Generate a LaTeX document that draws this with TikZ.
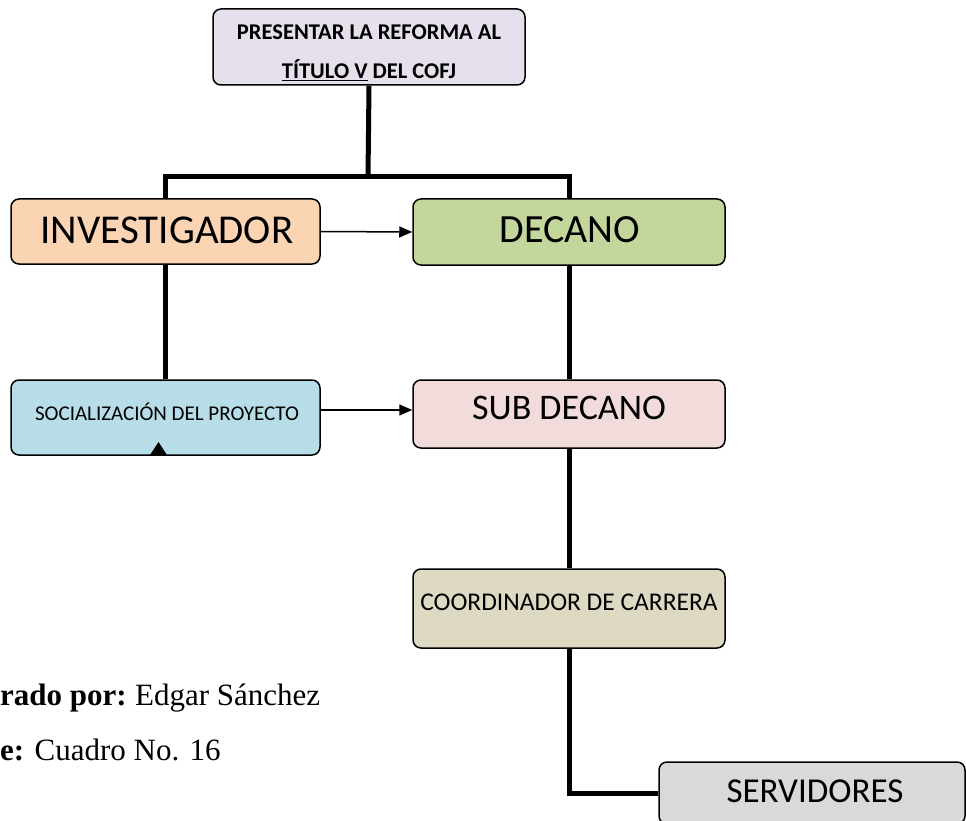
\documentclass[tikz,border=0pt]{standalone}
\usepackage{fontspec}
\setmainfont{Liberation Serif}
\newfontfamily\calfont{Carlito}
\usetikzlibrary{arrows.meta}
\definecolor{cTop}{HTML}{E5E0EC}
\definecolor{cInv}{HTML}{FBD4B4}
\definecolor{cDec}{HTML}{C3D69B}
\definecolor{cSoc}{HTML}{B7DEE8}
\definecolor{cSub}{HTML}{F2DCDB}
\definecolor{cCoo}{HTML}{DDD9C3}
\definecolor{cSer}{HTML}{D9D9D9}
\tikzset{
  box/.style={draw=black, line width=1.5pt, rounded corners=8pt, inner sep=0pt},
  conn/.style={draw=black, line width=5pt},
  arr/.style={draw=black, line width=1.5pt, -{Triangle[length=13pt,width=11pt]}},
  txt/.style={inner sep=0pt, font=\calfont}
}
\begin{document}
\begin{tikzpicture}[x=1pt,y=-1pt]
\useasboundingbox (0,0) rectangle (966,821);
\clip (0,0) rectangle (966,821);
% boxes
\node[box, fill=cTop, minimum width=312pt, minimum height=76pt] (top) at (369,47) {};
\node[box, fill=cInv, minimum width=309pt, minimum height=65pt] (inv) at (165.5,231.5) {};
\node[box, fill=cDec, minimum width=312pt, minimum height=66pt] (dec) at (569,232) {};
\node[box, fill=cSoc, minimum width=309pt, minimum height=75pt] (soc) at (165.5,417.5) {};
\node[box, fill=cSub, minimum width=312pt, minimum height=68pt] (sub) at (569,414) {};
\node[box, fill=cCoo, minimum width=312pt, minimum height=79pt] (coo) at (569,608.5) {};
\node[box, fill=cSer, minimum width=306pt, minimum height=62pt] (ser) at (812,793) {};
% texts
\node[txt, font=\calfont\bfseries\fontsize{22.5pt}{39pt}\selectfont, align=center] (ttop) at (369,53)
  {PRESENTAR LA REFORMA AL\\\underline{TÍTULO V} DEL COFJ};
\node[txt, font=\calfont\fontsize{41pt}{41pt}\selectfont] (tinv) at (167,230) {INVESTIGADOR};
\node[txt, font=\calfont\fontsize{40pt}{40pt}\selectfont] (tdec) at (570,230) {DECANO};
\node[txt, font=\calfont\fontsize{21pt}{21pt}\selectfont] (tsoc) at (167,412) {SOCIALIZACIÓN DEL PROYECTO};
\node[txt, font=\calfont\fontsize{36pt}{36pt}\selectfont] (tsub) at (569,408) {SUB DECANO};
\node[txt, font=\calfont\fontsize{25.5pt}{25.5pt}\selectfont] (tcoo) at (569,602) {COORDINADOR DE CARRERA};
\node[txt, font=\calfont\fontsize{35pt}{35pt}\selectfont] (tser) at (815,791) {SERVIDORES};
% thick connectors
\coordinate (bar) at (368,177);
\draw[conn] (top.south) -- (bar);
\draw[conn] (inv.north) -- (inv.north |- bar) -- (dec.north |- bar) -- (dec.north);
\draw[conn] (inv.south) -- (soc.north);
\draw[conn] (dec.south) -- (sub.north);
\draw[conn] (sub.south) -- (coo.north);
\draw[conn] (coo.south) |- (ser.west);
% arrows
\draw[arr] (inv.east) -- (dec.west);
\coordinate (a2) at ([yshift=4pt]sub.west);
\draw[arr] (soc.east |- a2) -- (a2);
% small triangle at bottom of socializacion
\coordinate (tri) at (158.5,455);
\fill[black] ([xshift=-8.5pt]tri) -- ([yshift=13pt]tri) -- ([xshift=8.5pt]tri) -- cycle;
% footer
\node[inner sep=0pt, anchor=base west, font=\fontsize{31pt}{31pt}\selectfont] (f1) at (0,705) {\textbf{rado por:}\hspace{-2pt} Edgar Sánchez};
\node[inner sep=0pt, anchor=base west, font=\fontsize{31pt}{31pt}\selectfont] (f2) at (0,760) {\textbf{e:} Cuadro No. 16};
\end{tikzpicture}
\end{document}
